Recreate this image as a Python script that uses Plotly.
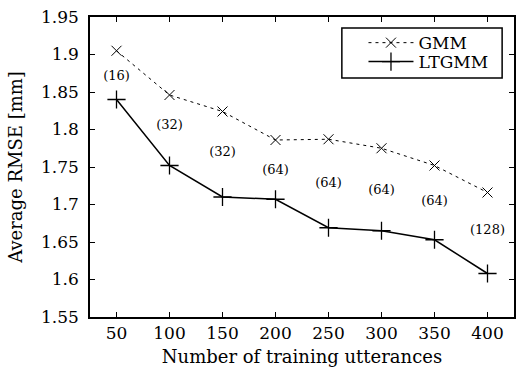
import plotly.graph_objects as go

utterances = [50, 100, 150, 200, 250, 300, 350, 400]
gmm = [1.905, 1.846, 1.824, 1.786, 1.787, 1.775, 1.752, 1.716]
ltgmm = [1.840, 1.752, 1.710, 1.707, 1.669, 1.665, 1.653, 1.608]
mix_labels = ["(16)", "(32)", "(32)", "(64)", "(64)", "(64)", "(64)", "(128)"]
label_y = [1.870, 1.805, 1.769, 1.745, 1.728, 1.719, 1.704, 1.665]

FONT = "DejaVu Serif"

fig = go.Figure()
fig.add_trace(go.Scatter(
    x=utterances, y=gmm, name="GMM", mode="lines+markers", legend="legend",
    line=dict(color="black", width=1, dash="3px,4px"),
    marker=dict(symbol="x-thin", size=10, line=dict(color="black", width=1)),
))
fig.add_trace(go.Scatter(
    x=utterances, y=ltgmm, name="LTGMM", mode="lines+markers", legend="legend2",
    line=dict(color="black", width=1.5),
    marker=dict(symbol="cross-thin", size=13, line=dict(color="black", width=1.3)),
))
fig.add_trace(go.Scatter(
    x=utterances, y=label_y, mode="text", text=mix_labels, showlegend=False,
    textfont=dict(family=FONT, size=13, color="black"), hoverinfo="skip",
))

# legend frame
fig.add_shape(type="rect", xref="paper", yref="paper",
              x0=0.594, x1=0.972, y0=0.797, y1=0.963,
              line=dict(color="black", width=1.5), fillcolor="white", layer="above")

leg_common = dict(xanchor="left", yanchor="middle", borderwidth=0,
                  bgcolor="rgba(0,0,0,0)", font=dict(family=FONT, size=17),
                  itemwidth=45)

fig.update_layout(
    width=516, height=376,
    margin=dict(l=90, r=0, t=17, b=59),
    paper_bgcolor="white", plot_bgcolor="white",
    font=dict(family=FONT, size=18, color="black"),
    showlegend=True,
    legend=dict(x=0.645, y=0.913, **leg_common),
    legend2=dict(x=0.645, y=0.85, **leg_common),
    xaxis=dict(
        range=[25, 425], tickvals=utterances, ticks="inside", ticklen=5,
        tickcolor="black", showline=True, linecolor="black", linewidth=1.5,
        mirror="ticks", showgrid=False, zeroline=False,
        title=dict(text="Number of training utterances", standoff=8,
                   font=dict(family=FONT, size=18)),
        tickfont=dict(family=FONT, size=17),
    ),
    yaxis=dict(
        range=[1.55, 1.95], dtick=0.05, tickformat="~g", ticks="inside", ticklen=5,
        tickcolor="black", showline=True, linecolor="black", linewidth=1.5,
        mirror="ticks", showgrid=False, zeroline=False, ticklabelstandoff=6,
        title=dict(text="Average RMSE [mm]", standoff=14,
                   font=dict(family=FONT, size=18)),
        tickfont=dict(family=FONT, size=17),
    ),
)

fig.write_html(
    "out.html",
    config={"displayModeBar": False},
    post_script="document.body.style.margin='0';document.body.style.overflow='hidden';",
)
